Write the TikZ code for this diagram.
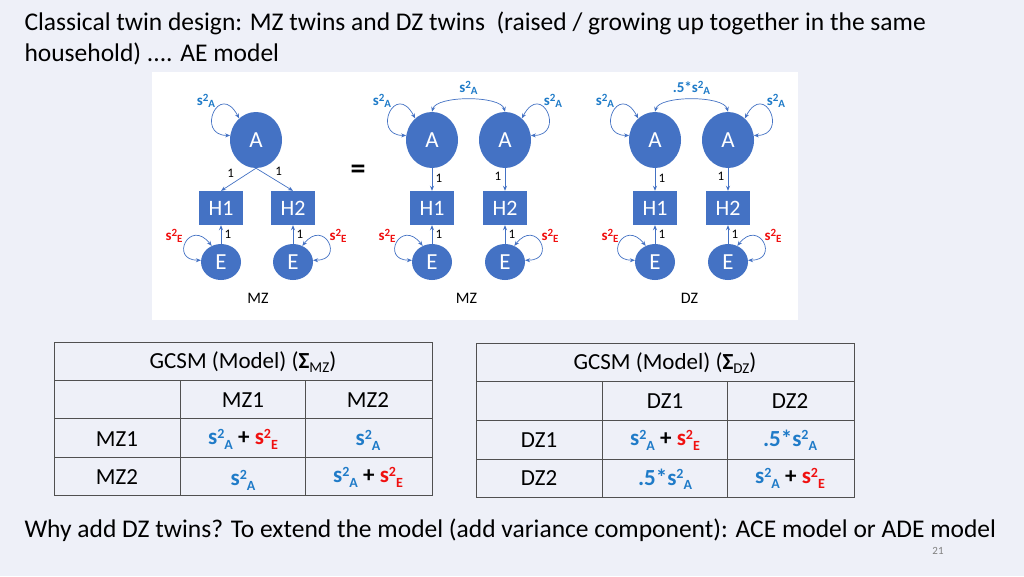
\documentclass[tikz,border=0pt]{standalone}
\usepackage{fontspec}
\setmainfont{Carlito}
\usetikzlibrary{arrows.meta,shapes.geometric}
\definecolor{bg}{HTML}{EEF0F8}
\definecolor{nodeblue}{HTML}{4472C4}
\definecolor{lblue}{HTML}{1F7BC8}
\definecolor{lred}{HTML}{F01010}
\definecolor{grid}{HTML}{505050}
\newcommand\vq[1]{s\raisebox{0.55ex}{\fontsize{11}{11}\selectfont 2}\raisebox{-0.35ex}{\fontsize{11}{11}\selectfont #1}}
\newcommand\vt[1]{s\raisebox{0.6ex}{\fontsize{14}{14}\selectfont 2}\raisebox{-0.4ex}{\fontsize{14}{14}\selectfont #1}}
\begin{document}
\begin{tikzpicture}[x=1pt,y=-1pt,
  latA/.style={ellipse,fill=nodeblue,text=white,minimum width=52,minimum height=56,inner sep=0,font=\fontsize{23}{23}\selectfont},
  latE/.style={ellipse,fill=nodeblue,text=white,minimum width=40,minimum height=36,inner sep=0,font=\fontsize{23}{23}\selectfont},
  obs/.style={rectangle,fill=nodeblue,text=white,minimum width=44,minimum height=34,inner sep=0,font=\fontsize{22}{22}\selectfont},
  pth/.style={draw=nodeblue,-{Stealth[length=5pt,width=4pt]},line width=0.7pt},
  lp/.style={draw=nodeblue,{Stealth[length=5pt,width=4pt]}-{Stealth[length=5pt,width=4pt]},line width=0.7pt},
  one/.style={font=\fontsize{13}{13}\selectfont,text=black},
  la/.style={font=\bfseries\fontsize{15}{15}\selectfont,text=lblue},
  le/.style={font=\bfseries\fontsize{15}{15}\selectfont,text=lred},
  cell/.style={font=\fontsize{23}{23}\selectfont},
  bcell/.style={font=\bfseries\fontsize{23}{23}\selectfont},
  tl/.style={draw=grid,line width=0.8pt}]
\useasboundingbox (0,0) rectangle (1024,576);
\fill[bg] (0,0) rectangle (1024,576);
\node[anchor=west,font=\fontsize{25.5}{25.5}\selectfont] (t1) at (21,23) {Classical twin design: MZ twins and DZ twins \ (raised / growing up together in the same};
\node[anchor=west,font=\fontsize{25.5}{25.5}\selectfont] (t2) at (21,54) {household) .... AE model};
\fill[white] (152,72) rectangle (798,320);
% panel 1
\node[latA] (A1) at (256,140) {A};
\node[obs] (H11) at (221,208) {H1};
\node[obs] (H12) at (293,208) {H2};
\node[latE] (E11) at (221,262) {E};
\node[latE] (E12) at (293,262) {E};
\draw[pth] (A1.south) -- (H11.north) node[one,pos=0.55,above left=-1pt] {1};
\draw[pth] (A1.south) -- (H12.north) node[one,pos=0.45,above right=-1pt] {1};
\draw[pth] (E11) -- (H11) node[one,midway,right] {1};
\draw[pth] (E12) -- (H12) node[one,midway,right] {1};
\draw[lp] (A1.170) .. controls +(-35,0) and +(-20,-38) .. (A1.128);
\draw[lp] (E11.175) .. controls +(-32,0) and +(-22,-28) .. (E11.120);
\draw[lp] (E12.5) .. controls +(32,0) and +(22,-28) .. (E12.60);
\node[la] (la1) at (206,101) {\vq{A}};
\node[le] (le11) at (174,236) {\vq{E}};
\node[le] (le12) at (338,236) {\vq{E}};
\node[font=\fontsize{16}{16}\selectfont] (m1) at (258,298) {MZ};
\node[font=\bfseries\fontsize{30}{30}\selectfont] (eq) at (358,172) {=};
% panels 2 and 3
\foreach \p/\xa/\xb/\lab/\top in {2/432/505/MZ/{\vq{A}},3/655/728/DZ/{.5*\vq{A}}}{
  \node[latA] (A\p1) at (\xa,140) {A};
  \node[latA] (A\p2) at (\xb,140) {A};
  \node[obs] (H\p1) at (\xa,208) {H1};
  \node[obs] (H\p2) at (\xb,208) {H2};
  \node[latE] (E\p1) at (\xa,262) {E};
  \node[latE] (E\p2) at (\xb,262) {E};
  \draw[pth] (A\p1) -- (H\p1) node[one,pos=0.45,right] {1};
  \draw[pth] (A\p2) -- (H\p2) node[one,pos=0.35,left] {1};
  \draw[pth] (E\p1) -- (H\p1) node[one,midway,right] {1};
  \draw[pth] (E\p2) -- (H\p2) node[one,midway,right] {1};
  \draw[lp] (A\p1.north) to[out=75,in=105,looseness=0.6] (A\p2.north);
  \draw[lp] (A\p1.170) .. controls +(-35,0) and +(-20,-38) .. (A\p1.128);
  \draw[lp] (A\p2.10) .. controls +(35,0) and +(20,-38) .. (A\p2.52);
  \draw[lp] (E\p1.175) .. controls +(-32,0) and +(-22,-28) .. (E\p1.120);
  \draw[lp] (E\p2.5) .. controls +(32,0) and +(22,-28) .. (E\p2.60);
  \node[la] (lal\p) at (\xa-50,101) {\vq{A}};
  \node[la] (lar\p) at (\xb+48,101) {\vq{A}};
  \node[la] (lat\p) at ({(\xa+\xb)/2},88) {\top};
  \node[le] (lel\p) at (\xa-45,236) {\vq{E}};
  \node[le] (ler\p) at (\xb+45,236) {\vq{E}};
  \node[font=\fontsize{16}{16}\selectfont] (m\p) at ({(\xa+\xb)/2-2},298) {\lab};
}
% tables
\foreach \x/\y/\c/\s in {54/342/MZ/0, 476/343/DZ/1}{
  \draw[tl] (\x,\y) rectangle (\x+378,\y+153+\s);
  \draw[tl] (\x,\y+38) -- (\x+378,\y+38);
  \draw[tl] (\x,\y+76+\s) -- (\x+378,\y+76+\s);
  \draw[tl] (\x,\y+115+\s) -- (\x+378,\y+115+\s);
  \draw[tl] (\x+126,\y+38) -- (\x+126,\y+153+\s);
  \draw[tl] (\x+251,\y+38) -- (\x+251,\y+153+\s);
  \node[cell] (hd\c) at (\x+189,\y+20) {GCSM (Model) (\textbf{Σ}\raisebox{-0.4ex}{\fontsize{15}{15}\selectfont \c})};
  \node[cell] (c1\c) at (\x+189,\y+58) {\c1};
  \node[cell] (c2\c) at (\x+314,\y+58) {\c2};
  \node[cell] (r1\c) at (\x+63,\y+97) {\c1};
  \node[cell] (r2\c) at (\x+63,\y+135) {\c2};
  \node[bcell] (d11\c) at (\x+189,\y+97) {\textcolor{lblue}{\vt{A}} + \textcolor{lred}{\vt{E}}};
  \node[bcell] (d22\c) at (\x+314,\y+135) {\textcolor{lblue}{\vt{A}} + \textcolor{lred}{\vt{E}}};
}
\node[bcell,text=lblue] (o1) at (243,480) {\vt{A}};
\node[bcell,text=lblue] (o2) at (368,440) {\vt{A}};
\node[bcell,text=lblue] (o3) at (665,479) {.5*\vt{A}};
\node[bcell,text=lblue] (o4) at (790,440) {.5*\vt{A}};
\node[anchor=west,font=\fontsize{25.5}{25.5}\selectfont] (bt) at (21,530) {Why add DZ twins? To extend the model (add variance component): ACE model or ADE model};
\node[font=\fontsize{11}{11}\selectfont,text=gray] (pg) at (938,551) {21};
\end{tikzpicture}
\end{document}
